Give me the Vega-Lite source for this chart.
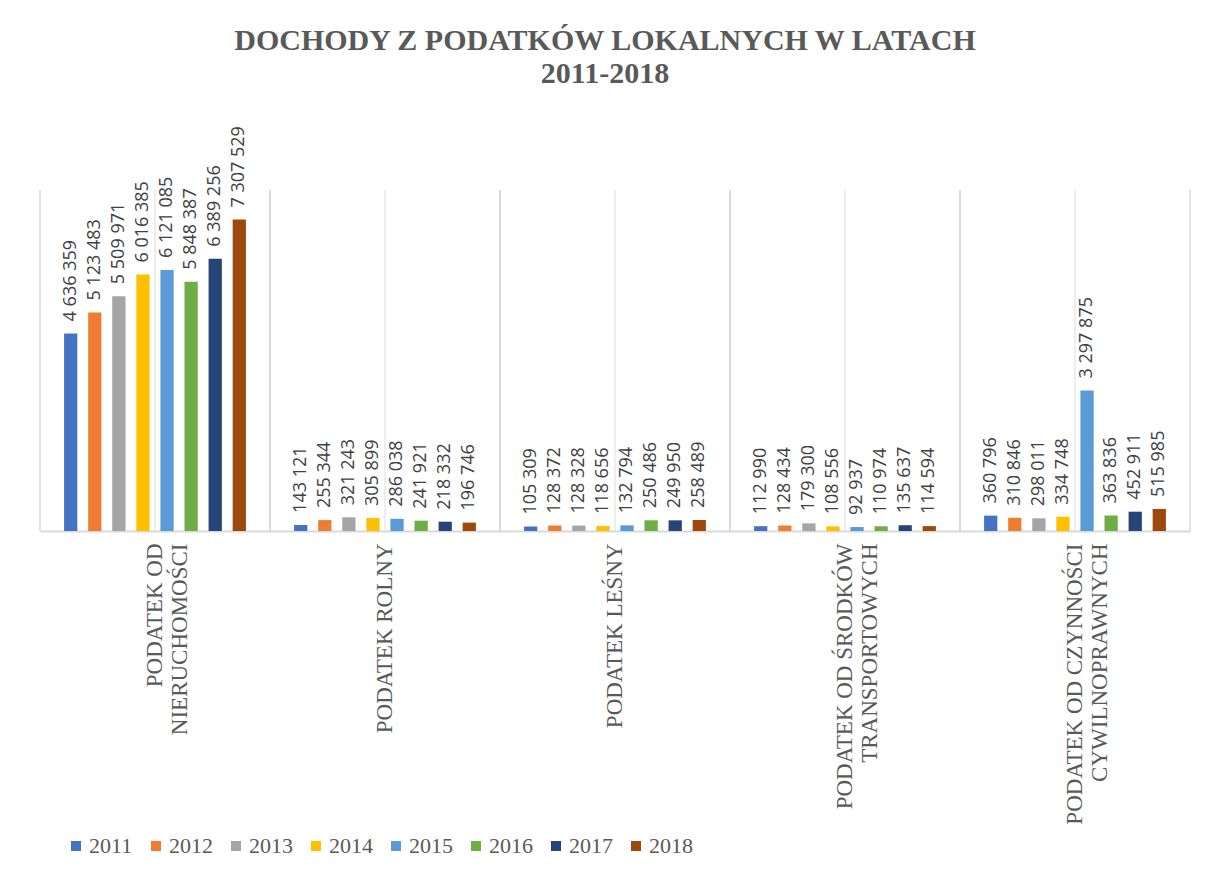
{
  "$schema": "https://vega.github.io/schema/vega-lite/v6.json",
  "width": 1150,
  "height": 341,
  "autosize": {"type": "none"},
  "padding": {"left": 40, "top": 190, "right": 16, "bottom": 351},
  "background": "white",
  "config": {
    "view": {"stroke": null},
    "locale": {"number": {"decimal": ",", "thousands": " ", "grouping": [3], "currency": ["", " zł"]}}
  },
  "title": {
    "text": ["DOCHODY Z PODATKÓW LOKALNYCH W LATACH", "2011-2018"],
    "anchor": "middle",
    "font": "Liberation Serif",
    "fontSize": 30,
    "fontWeight": "bold",
    "color": "#595959",
    "lineHeight": 33,
    "offset": 37,
    "dx": -10
  },
  "datasets": {
    "cats": [
      {"cat": "PODATEK OD NIERUCHOMOŚCI"},
      {"cat": "PODATEK ROLNY"},
      {"cat": "PODATEK LEŚNY"},
      {"cat": "PODATEK OD ŚRODKÓW TRANSPORTOWYCH"},
      {"cat": "PODATEK OD CZYNNOŚCI CYWILNOPRAWNYCH"}
    ],
    "vals": [
      {"cat": "PODATEK OD NIERUCHOMOŚCI", "year": "2011", "value": 4636359},
      {"cat": "PODATEK OD NIERUCHOMOŚCI", "year": "2012", "value": 5123483},
      {"cat": "PODATEK OD NIERUCHOMOŚCI", "year": "2013", "value": 5509971},
      {"cat": "PODATEK OD NIERUCHOMOŚCI", "year": "2014", "value": 6016385},
      {"cat": "PODATEK OD NIERUCHOMOŚCI", "year": "2015", "value": 6121085},
      {"cat": "PODATEK OD NIERUCHOMOŚCI", "year": "2016", "value": 5848387},
      {"cat": "PODATEK OD NIERUCHOMOŚCI", "year": "2017", "value": 6389256},
      {"cat": "PODATEK OD NIERUCHOMOŚCI", "year": "2018", "value": 7307529},
      {"cat": "PODATEK ROLNY", "year": "2011", "value": 143121},
      {"cat": "PODATEK ROLNY", "year": "2012", "value": 255344},
      {"cat": "PODATEK ROLNY", "year": "2013", "value": 321243},
      {"cat": "PODATEK ROLNY", "year": "2014", "value": 305899},
      {"cat": "PODATEK ROLNY", "year": "2015", "value": 286038},
      {"cat": "PODATEK ROLNY", "year": "2016", "value": 241921},
      {"cat": "PODATEK ROLNY", "year": "2017", "value": 218332},
      {"cat": "PODATEK ROLNY", "year": "2018", "value": 196746},
      {"cat": "PODATEK LEŚNY", "year": "2011", "value": 105309},
      {"cat": "PODATEK LEŚNY", "year": "2012", "value": 128372},
      {"cat": "PODATEK LEŚNY", "year": "2013", "value": 128328},
      {"cat": "PODATEK LEŚNY", "year": "2014", "value": 118656},
      {"cat": "PODATEK LEŚNY", "year": "2015", "value": 132794},
      {"cat": "PODATEK LEŚNY", "year": "2016", "value": 250486},
      {"cat": "PODATEK LEŚNY", "year": "2017", "value": 249950},
      {"cat": "PODATEK LEŚNY", "year": "2018", "value": 258489},
      {"cat": "PODATEK OD ŚRODKÓW TRANSPORTOWYCH", "year": "2011", "value": 112990},
      {"cat": "PODATEK OD ŚRODKÓW TRANSPORTOWYCH", "year": "2012", "value": 128434},
      {"cat": "PODATEK OD ŚRODKÓW TRANSPORTOWYCH", "year": "2013", "value": 179300},
      {"cat": "PODATEK OD ŚRODKÓW TRANSPORTOWYCH", "year": "2014", "value": 108556},
      {"cat": "PODATEK OD ŚRODKÓW TRANSPORTOWYCH", "year": "2015", "value": 92937},
      {"cat": "PODATEK OD ŚRODKÓW TRANSPORTOWYCH", "year": "2016", "value": 110974},
      {"cat": "PODATEK OD ŚRODKÓW TRANSPORTOWYCH", "year": "2017", "value": 135637},
      {"cat": "PODATEK OD ŚRODKÓW TRANSPORTOWYCH", "year": "2018", "value": 114594},
      {"cat": "PODATEK OD CZYNNOŚCI CYWILNOPRAWNYCH", "year": "2011", "value": 360796},
      {"cat": "PODATEK OD CZYNNOŚCI CYWILNOPRAWNYCH", "year": "2012", "value": 310846},
      {"cat": "PODATEK OD CZYNNOŚCI CYWILNOPRAWNYCH", "year": "2013", "value": 298011},
      {"cat": "PODATEK OD CZYNNOŚCI CYWILNOPRAWNYCH", "year": "2014", "value": 334748},
      {"cat": "PODATEK OD CZYNNOŚCI CYWILNOPRAWNYCH", "year": "2015", "value": 3297875},
      {"cat": "PODATEK OD CZYNNOŚCI CYWILNOPRAWNYCH", "year": "2016", "value": 363836},
      {"cat": "PODATEK OD CZYNNOŚCI CYWILNOPRAWNYCH", "year": "2017", "value": 452911},
      {"cat": "PODATEK OD CZYNNOŚCI CYWILNOPRAWNYCH", "year": "2018", "value": 515985}
    ]
  },
  "layer": [
    {
      "data": {"name": "cats"},
      "mark": {"type": "rule", "color": "#d9d9d9", "strokeWidth": 1.5},
      "encoding": {
        "x": {"field": "cat", "type": "nominal", "bandPosition": 0}
      }
    },
    {
      "data": {"name": "cats"},
      "mark": {"type": "rule", "color": "#e3e3e3", "strokeWidth": 1.2},
      "encoding": {
        "x": {"field": "cat", "type": "nominal", "bandPosition": 0.5}
      }
    },
    {
      "data": {"name": "cats"},
      "mark": {"type": "rule", "color": "#d9d9d9", "strokeWidth": 1.5},
      "encoding": {
        "x": {"field": "cat", "type": "nominal", "bandPosition": 1}
      }
    },
    {
      "data": {"name": "vals"},
      "mark": {"type": "bar"},
      "encoding": {
        "x": {
          "field": "cat",
          "type": "nominal",
          "scale": {
            "domain": [
              "PODATEK OD NIERUCHOMOŚCI",
              "PODATEK ROLNY",
              "PODATEK LEŚNY",
              "PODATEK OD ŚRODKÓW TRANSPORTOWYCH",
              "PODATEK OD CZYNNOŚCI CYWILNOPRAWNYCH"
            ],
            "paddingInner": 0,
            "paddingOuter": 0
          },
          "axis": {
            "title": null,
            "labelAngle": -90,
            "labelFont": "Liberation Serif",
            "labelFontSize": 23,
            "labelColor": "#595959",
            "labelLineHeight": 25,
            "labelPadding": 12,
            "labelLimit": 0,
            "labelOverlap": false,
            "ticks": false,
            "domainColor": "#d9d9d9",
            "domainWidth": 2,
            "labelExpr": "length(datum.label) > 14 ? [substring(datum.label, 0, lastindexof(datum.label, ' ')), substring(datum.label, lastindexof(datum.label, ' ') + 1)] : datum.label"
          }
        },
        "xOffset": {
          "field": "year",
          "type": "nominal",
          "scale": {"paddingInner": 0.45, "paddingOuter": 1.1}
        },
        "y": {
          "field": "value",
          "type": "quantitative",
          "scale": {"domain": [0, 8000000], "nice": false},
          "axis": null
        },
        "color": {
          "field": "year",
          "type": "nominal",
          "scale": {
            "domain": ["2011", "2012", "2013", "2014", "2015", "2016", "2017", "2018"],
            "range": ["#4472C4", "#ED7D31", "#A5A5A5", "#FFC000", "#5B9BD5", "#70AD47", "#264478", "#9E480E"]
          },
          "legend": {
            "title": null,
            "orient": "none",
            "direction": "horizontal",
            "columns": 8,
            "legendX": 25,
            "legendY": 645,
            "symbolType": "square",
            "symbolSize": 100,
            "symbolStrokeWidth": 0,
            "labelFont": "Liberation Serif",
            "labelFontSize": 22,
            "labelColor": "#595959",
            "labelOffset": 2,
            "columnPadding": 12
          }
        }
      }
    },
    {
      "data": {"name": "vals"},
      "mark": {
        "type": "text",
        "angle": 270,
        "align": "left",
        "baseline": "middle",
        "dx": 12,
        "font": "Open Sans",
        "fontSize": 18,
        "color": "#404040"
      },
      "encoding": {
        "x": {"field": "cat", "type": "nominal"},
        "xOffset": {"field": "year", "type": "nominal"},
        "y": {"field": "value", "type": "quantitative"},
        "text": {"field": "value", "type": "quantitative", "format": ",d"}
      }
    }
  ]
}
